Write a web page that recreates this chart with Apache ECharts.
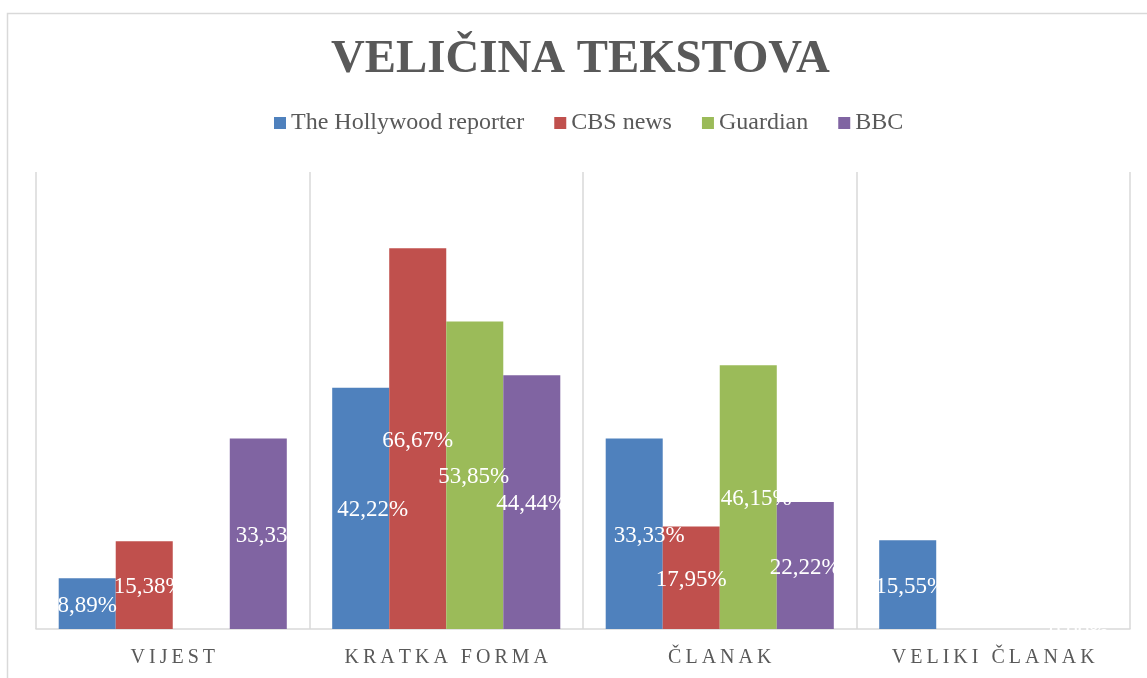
<!DOCTYPE html>
<html>
<head>
<meta charset="utf-8">
<title>Veličina tekstova</title>
<script src="https://cdn.jsdelivr.net/npm/echarts/dist/echarts.min.js"></script>
<style>
  html, body { margin: 0; padding: 0; background: #fff; }
  #chart { width: 1147px; height: 678px; }
</style>
</head>
<body>
<div id="chart"></div>
<script>
// podaci
const categories = ['VIJEST', 'KRATKA FORMA', 'ČLANAK', 'VELIKI ČLANAK'];
const seriesNames = ['The Hollywood reporter', 'CBS news', 'Guardian', 'BBC'];
const hollywood = [8.89, 42.22, 33.33, 15.55];
const cbs = [15.38, 66.67, 17.95, null];
const guardian = [null, 53.85, 46.15, null];
const bbc = [33.33, 44.44, 22.22, 0];

const values = [hollywood, cbs, guardian, bbc];
const colors = ['#4F81BD', '#C0504D', '#9BBB59', '#8064A2'];
// ručno pomaknute oznake (kao u originalu)
const labelShift = [[0, 12, 15, 3], [5, 0, 0, 0], [0, -1, 8, 0], [13, 0, 0, 0]];

const font = 'Liberation Serif, Times New Roman, serif';
const grey = '#595959';

const chart = echarts.init(document.getElementById('chart'));

const series = seriesNames.map(function (name, s) {
  return {
    name: name,
    type: 'bar',
    barGap: '0%',
    barCategoryGap: '16.6%',
    itemStyle: { color: colors[s] },
    label: {
      show: true,
      position: 'inside',
      color: '#fff',
      fontFamily: font,
      fontSize: 23,
      formatter: function (p) {
        return p.value.toFixed(2).replace('.', ',') + '%';
      }
    },
    data: values[s].map(function (v, i) {
      if (v === null) return '-';
      return { value: v, label: { offset: [labelShift[s][i], 2] } };
    })
  };
});

const option = {
  animation: false,
  backgroundColor: '#fff',
  graphic: [{
    type: 'rect',
    shape: { x: 7.5, y: 13.5, width: 1200, height: 700 },
    style: { fill: 'none', stroke: '#d9d9d9', lineWidth: 1.5 },
    silent: true
  }],
  title: {
    text: 'VELIČINA TEKSTOVA',
    left: 331,
    top: 36,
    padding: 0,
    textStyle: {
      fontFamily: font,
      fontWeight: 'bold',
      fontSize: 46.8,
      color: grey
    }
  },
  legend: {
    data: seriesNames,
    left: 274,
    top: 111,
    padding: 0,
    icon: 'rect',
    itemWidth: 12,
    itemHeight: 12,
    itemGap: 30,
    textStyle: { fontFamily: font, fontSize: 24, color: grey }
  },
  grid: { left: 36, right: 17, top: 172, bottom: 49 },
  xAxis: {
    type: 'category',
    data: categories,
    axisLine: { lineStyle: { color: '#d9d9d9', width: 1.5 } },
    axisTick: { show: false },
    splitLine: { show: true, lineStyle: { color: '#d9d9d9', width: 1.5 } },
    axisLabel: {
      margin: 19,
      fontFamily: font,
      fontSize: 20,
      color: grey,
      formatter: function (v) { return v.split('').join('\u2009'); }
    }
  },
  yAxis: {
    type: 'value',
    min: 0,
    max: 80,
    show: false
  },
  series: series
};

chart.setOption(option);
</script>
</body>
</html>
